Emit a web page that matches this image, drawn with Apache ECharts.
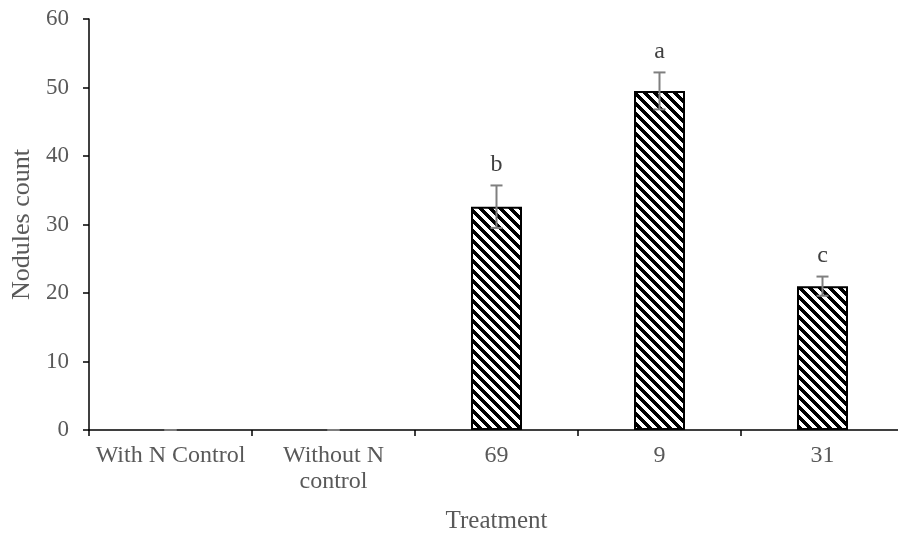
<!DOCTYPE html>
<html><head><meta charset="utf-8">
<script src="https://cdn.jsdelivr.net/npm/echarts@6/dist/echarts.min.js"></script>
<style>html,body{margin:0;padding:0;background:#fff}#c{width:898px;height:535px}</style>
</head><body><div id="c"></div>
<script>
const categories = ['With N Control', 'Without N\ncontrol', '69', '9', '31'];
const nodules = [0, 0, 32.6, 49.5, 21];
const errors = [0, 0, 3.1, 2.7, 1.4];
const letters = ['', '', 'b', 'a', 'c'];
const yTicks = [0, 10, 20, 30, 40, 50, 60];

const FONT = "'Liberation Serif', 'Times New Roman', serif";

// diagonal stripe pattern tile
const P = 10;
const tile = document.createElement('canvas');
tile.width = P; tile.height = P;
const tctx = tile.getContext('2d');
const img = tctx.createImageData(P, P);
for (let y = 0; y < P; y++) {
  for (let x = 0; x < P; x++) {
    const k = (((x - y) % P) + P) % P;
    const c = k < 5 ? 0 : 255;
    const i = (y * P + x) * 4;
    img.data[i] = c; img.data[i + 1] = c; img.data[i + 2] = c; img.data[i + 3] = 255;
  }
}
tctx.putImageData(img, 0, 0);

const chart = echarts.init(document.getElementById('c'), null, { renderer: 'canvas' });
chart.setOption({
  animation: false,
  backgroundColor: '#fff',
  grid: { left: 89, top: 19, width: 815, height: 411, containLabel: false, outerBoundsMode: 'none' },
  xAxis: {
    type: 'category',
    data: categories,
    boundaryGap: true,
    name: 'Treatment',
    nameLocation: 'middle',
    nameGap: 79,
    nameTextStyle: { fontFamily: FONT, fontSize: 25, color: '#595959' },
    axisLine: { lineStyle: { color: '#000', width: 1.5 } },
    axisTick: { show: true, length: 6, lineStyle: { color: '#000', width: 1.5 } },
    axisLabel: { interval: 0, margin: 13, fontFamily: FONT, fontSize: 24, lineHeight: 26, color: '#595959' },
    splitLine: { show: false }
  },
  yAxis: {
    type: 'value',
    min: yTicks[0],
    max: yTicks[yTicks.length - 1],
    interval: 10,
    name: 'Nodules count',
    nameLocation: 'middle',
    nameGap: 52,
    nameTextStyle: { fontFamily: FONT, fontSize: 26, color: '#595959' },
    axisLine: { show: true, lineStyle: { color: '#000', width: 1.5 } },
    axisTick: { show: true, length: 6, lineStyle: { color: '#000', width: 1.5 } },
    axisLabel: { margin: 20, fontFamily: FONT, fontSize: 23, color: '#595959' },
    splitLine: { show: false }
  },
  series: [
    {
      type: 'bar',
      data: nodules.map(v => v === 0
        ? { value: v, itemStyle: { borderWidth: 0, color: 'rgba(0,0,0,0)' } }
        : v),
      barWidth: 51,
      itemStyle: { color: { image: tile, repeat: 'repeat' }, borderColor: '#000', borderWidth: 2 },
      z: 2
    },
    {
      type: 'custom',
      data: nodules.map((v, i) => [i, v, errors[i], i]),
      z: 5,
      renderItem: function (params, api) {
        const x = api.value(0), v = api.value(1), e = api.value(2);
        const top = api.coord([x, v + e]);
        const bot = api.coord([x, v - e]);
        const hw = 6;
        const st = { stroke: '#7f7f7f', lineWidth: 2 };
        const children = [
          { type: 'line', shape: { x1: top[0], y1: top[1], x2: bot[0], y2: bot[1] }, style: st },
          { type: 'line', shape: { x1: top[0] - hw, y1: top[1], x2: top[0] + hw, y2: top[1] }, style: st },
          { type: 'line', shape: { x1: bot[0] - hw, y1: bot[1], x2: bot[0] + hw, y2: bot[1] }, style: st }
        ];
        const letter = letters[params.dataIndex];
        if (letter) {
          children.push({
            type: 'text',
            x: top[0],
            y: top[1] - 9,
            style: {
              text: letter,
              align: 'center',
              verticalAlign: 'bottom',
              font: '24px ' + FONT,
              fill: '#404040'
            }
          });
        }
        return { type: 'group', children: children };
      }
    }
  ]
});
</script>
</body></html>
